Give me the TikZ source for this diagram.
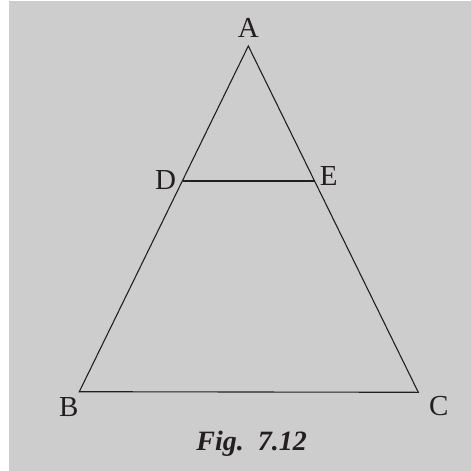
\documentclass[tikz,border=0pt]{standalone}
\usepackage{fontspec}
\setmainfont{Liberation Serif}
\usepackage{tikz}

\begin{document}
\begin{tikzpicture}[x=1pt,y=-1pt]
\definecolor{fillColor}{RGB}{255,255,255}
\path[use as bounding box,fill=fillColor] (0,0) rectangle (471,471);
\definecolor{fillColor}{RGB}{205,205,205}
\path[fill=fillColor] (  9.00,  1.00) rectangle (471,471);
\definecolor{drawColor}{RGB}{35,31,32}
\tikzset{
  ptlabel/.style={text=drawColor,anchor=base,inner sep=0pt,outer sep=0pt,font=\fontsize{29}{29}\selectfont},
  side/.style={draw=drawColor,line width=1.1pt,line join=miter}
}

\coordinate (A) at (248.30, 46.00);
\coordinate (B) at ( 79.30,391.70);
\coordinate (C) at (418.30,392.30);
\coordinate (D) at (183.30,181.00);
\coordinate (E) at (315.00,181.00);

\path[side] (B) -- (A) -- (C) -- cycle;

\path[side,line width=1.6pt] (D) -- (E);

\node[ptlabel] (labA) at (248.30, 37.30) {A};
\node[ptlabel] (labD) at (165.70,189.30) {D};
\node[ptlabel] (labE) at (328.70,185.00) {E};
\node[ptlabel] (labB) at ( 68.70,416.70) {B};
\node[ptlabel] (labC) at (438.70,415.70) {C};

\node[ptlabel,font=\fontsize{28}{28}\selectfont\bfseries\itshape] (caption) at (251.70,450.00) {Fig.\ \ 7.12};
\end{tikzpicture}
\end{document}
